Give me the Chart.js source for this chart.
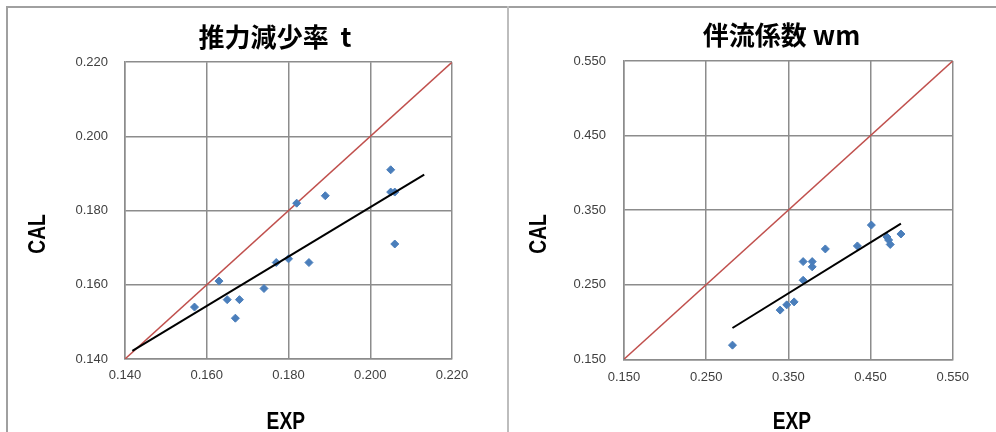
<!DOCTYPE html>
<html><head><meta charset="utf-8">
<script src="https://cdn.jsdelivr.net/npm/chart.js@4"></script>
<style>
html,body{margin:0;padding:0;background:#fff;overflow:hidden;width:996px;height:432px;position:relative;}
#c1{position:absolute;left:0;top:0;width:508px;height:440px;}
#c2{position:absolute;left:508px;top:0;width:500px;height:440px;}
.fr{position:absolute;background:#a0a0a0;}
</style></head><body>
<canvas id="c1" width="508" height="440"></canvas>
<canvas id="c2" width="500" height="440"></canvas>
<div class="fr" style="left:6px;top:6px;width:990px;height:2px"></div>
<div class="fr" style="left:6px;top:6px;width:2px;height:426px"></div>
<div class="fr" style="left:507px;top:6px;width:2px;height:426px;background:#bdbdbd"></div>
<script>
// ---- Chart 1: 推力減少率 t ----
const tTitle = '推力減少率  t';
const tExp = [0.157,0.163,0.165,0.168,0.167,0.174,0.177,0.180,0.185,0.182,0.189,0.205,0.205,0.206,0.206];
const tCal = [0.154,0.161,0.156,0.156,0.151,0.159,0.166,0.167,0.166,0.182,0.184,0.191,0.185,0.185,0.171];
const tTrendExp = [0.1418, 0.2132];
const tTrendCal = [0.1422, 0.1897];
const tDiag = [0.140, 0.220];
const tTickValues = [0.14, 0.16, 0.18, 0.20, 0.22];
const tTickLabels = ['0.140', '0.160', '0.180', '0.200', '0.220'];

// ---- Chart 2: 伴流係数 wm ----
const wTitle = '伴流係数 wm';
const wExp = [0.282,0.340,0.348,0.357,0.368,0.368,0.379,0.379,0.395,0.434,0.451,0.470,0.472,0.474,0.487];
const wCal = [0.169,0.216,0.223,0.227,0.256,0.281,0.281,0.274,0.298,0.302,0.330,0.314,0.310,0.304,0.318];
const wTrendExp = [0.282, 0.487];
const wTrendCal = [0.192, 0.332];
const wDiag = [0.150, 0.550];
const wTickValues = [0.15, 0.25, 0.35, 0.45, 0.55];
const wTickLabels = ['0.150', '0.250', '0.350', '0.450', '0.550'];

const xTitle = 'EXP';
const yTitle = 'CAL';

const AXIS_FONT = 'bold 24px "Liberation Sans", Arial, sans-serif';
const GRID = '#8c8c8c';

// axis titles (bold, slightly condensed like the original)
const axisTitlePlugin = {
  id: 'axisTitles',
  afterDraw(chart, args, opts) {
    const {ctx, chartArea} = chart;
    ctx.save();
    ctx.font = AXIS_FONT;
    ctx.fillStyle = '#000';
    ctx.textAlign = 'center';
    ctx.textBaseline = 'middle';
    ctx.save();
    ctx.translate(chartArea.left - opts.ydx, opts.yy);
    ctx.rotate(-Math.PI / 2);
    ctx.scale(0.8, 1);
    ctx.fillText(opts.yText, 0, 0);
    ctx.restore();
    ctx.save();
    ctx.translate((chartArea.left + chartArea.right) / 2 + opts.xdx, opts.xy);
    ctx.scale(0.8, 1);
    ctx.fillText(opts.xText, 0, 0);
    ctx.restore();
    ctx.restore();
  }
};

function pts(xs, ys) { return xs.map((x, i) => ({x: x, y: ys[i]})); }

function makeChart(id, p) {
  const tickFont = {family: '"Liberation Sans", Arial, sans-serif', size: 13};
  const axisCommon = (vals) => ({
    type: 'linear',
    min: vals[0], max: vals[vals.length - 1],
    afterBuildTicks: s => { s.ticks = vals.map(v => ({value: v})); },
    grid: {color: GRID, lineWidth: 1.5, drawTicks: false},
    border: {color: GRID, width: 1.5},
  });
  const xAxis = Object.assign(axisCommon(p.ticks), {
    position: 'bottom',
    afterFit: s => { s.height = p.xh; },
    ticks: {font: tickFont, color: '#404040', padding: p.xpad, maxRotation: 0,
            callback: (v, i) => p.labels[i]}
  });
  const yAxis = Object.assign(axisCommon(p.ticks), {
    position: 'left',
    afterFit: s => { s.width = p.yw; },
    ticks: {font: tickFont, color: '#404040', padding: p.ypad,
            callback: (v, i) => p.labels[i]}
  });
  // empty spacer on the right so the chart title centres like the original
  const ySpacer = {
    type: 'linear', position: 'right', display: true,
    grid: {display: false}, ticks: {display: false}, border: {display: false},
    afterFit: s => { s.width = p.rw; }
  };
  return new Chart(document.getElementById(id), {
    type: 'scatter',
    data: {datasets: [
      {data: pts(p.trendX, p.trendY), showLine: true, borderColor: '#000', borderWidth: 2,
       pointRadius: 0, order: 1},
      {data: pts(p.exp, p.cal), pointStyle: 'rectRot', pointRadius: 4, pointBorderWidth: 1,
       backgroundColor: '#4a7ebb', borderColor: '#4a7ebb', order: 2},
      {data: pts(p.diag, p.diag), showLine: true, borderColor: '#c0504d', borderWidth: 1.5,
       pointRadius: 0, order: 3}
    ]},
    options: {
      responsive: false, animation: false, devicePixelRatio: 1,
      layout: {padding: {left: p.padL, right: p.padR, top: 0, bottom: 0}},
      scales: {x: xAxis, y: yAxis, y2: ySpacer},
      plugins: {
        legend: {display: false}, tooltip: {enabled: false},
        title: {display: true, text: p.title, color: '#000',
                font: {family: '"Noto Sans CJK JP", sans-serif', size: 26, weight: 'bold'},
                padding: {top: p.tTop, bottom: p.tBot}},
        axisTitles: {yText: yTitle, xText: xTitle, ydx: p.ydx, yy: p.yy, xdx: p.xdx, xy: 422.5}
      }
    },
    plugins: [axisTitlePlugin]
  });
}

makeChart('c1', {
  title: tTitle, exp: tExp, cal: tCal, trendX: tTrendExp, trendY: tTrendCal, diag: tDiag,
  ticks: tTickValues, labels: tTickLabels,
  padL: 65, padR: 23, yw: 60, rw: 33, xh: 81, xpad: 9, ypad: 17, tTop: 22, tBot: 9,
  ydx: 86.7, yy: 234, xdx: -2.7
});
makeChart('c2', {
  title: wTitle, exp: wExp, cal: wCal, trendX: wTrendExp, trendY: wTrendCal, diag: wDiag,
  ticks: wTickValues, labels: wTickLabels,
  padL: 56.3, padR: 9.3, yw: 59.7, rw: 46, xh: 80.7, xpad: 10, ypad: 18, tTop: 19.4, tBot: 10.4,
  ydx: 85, yy: 234, xdx: 3.5
});
</script>
</body></html>
